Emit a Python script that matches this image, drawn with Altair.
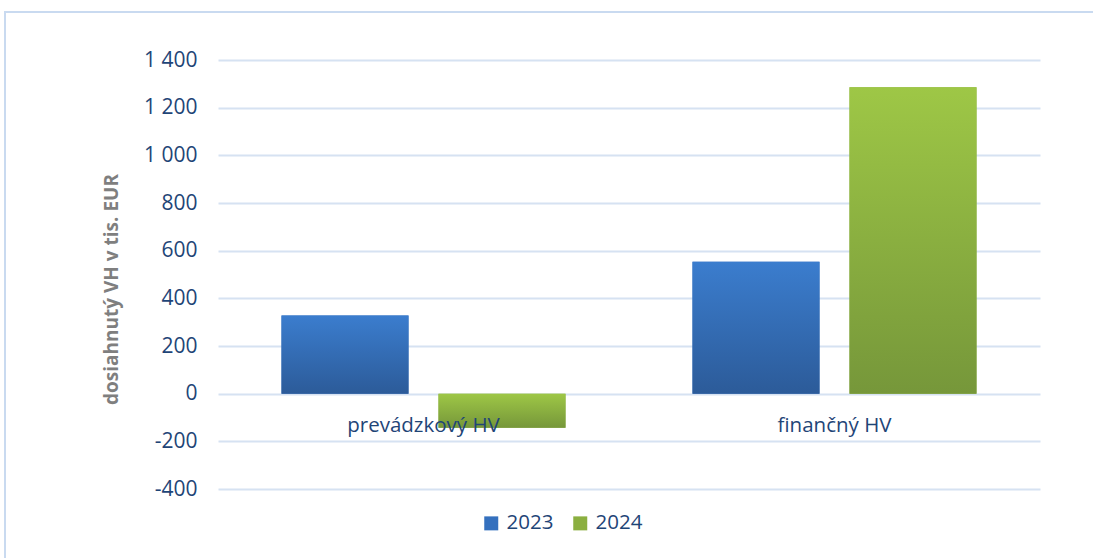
import altair as alt
import pandas as pd

categories = ["prevádzkový HV", "finančný HV"]
years = ["2023", "2024"]
values_2023 = [328, 554]
values_2024 = [-143, 1286]
y_ticks = [-400, -200, 0, 200, 400, 600, 800, 1000, 1200, 1400]

rows = []
for c, v in zip(categories, values_2023):
    rows.append({"cat": c, "year": "2023", "value": v})
for c, v in zip(categories, values_2024):
    rows.append({"cat": c, "year": "2024", "value": v})
df = pd.DataFrame(rows)

FONT = "Open Sans"
LABEL_COLOR = "#1F4577"

grad_blue = alt.Gradient(
    gradient="linear", x1=0, x2=0, y1=0, y2=1,
    stops=[alt.GradientStop(color="#3B7DCE", offset=0),
           alt.GradientStop(color="#2C5B99", offset=1)])
grad_green = alt.Gradient(
    gradient="linear", x1=0, x2=0, y1=0, y2=1,
    stops=[alt.GradientStop(color="#9EC746", offset=0),
           alt.GradientStop(color="#76973A", offset=1)])

x_enc = alt.X("cat:N", sort=categories,
              scale=alt.Scale(paddingInner=0.309, paddingOuter=0.1545),
              axis=None)
xoff_enc = alt.XOffset("year:N", sort=years,
                       scale=alt.Scale(domain=years, paddingInner=0.191, paddingOuter=0))
y_enc = alt.Y("value:Q",
              scale=alt.Scale(domain=[-400, 1400], nice=False, zero=False),
              axis=alt.Axis(values=y_ticks,
                            labelExpr="datum.value >= 1000 ? floor(datum.value/1000) + ' ' + substring(toString(datum.value), 1) : toString(datum.value)",
                            title="dosiahnutý VH v tis. EUR",
                            titleFont=FONT, titleFontSize=19, titleFontWeight="bold",
                            titleColor="#7F7F7F", titleX=-97, titleY=229,
                            labelFont=FONT, labelFontSize=21, labelColor=LABEL_COLOR,
                            labelPadding=21, domain=False, ticks=False,
                            grid=True, gridColor="#D6E2F2", gridWidth=2))

border = alt.Chart(pd.DataFrame({"a": [0]})).mark_rect(
    stroke="#C9DAF0", strokeWidth=2, fillOpacity=0
).encode(x=alt.value(-213), x2=alt.value(900), y=alt.value(-48), y2=alt.value(560))

base = alt.Chart(df).encode(x=x_enc, xOffset=xoff_enc, y=y_enc)

legend_bars = base.mark_bar().encode(
    color=alt.Color("year:N", sort=years,
                    scale=alt.Scale(domain=years, range=["#3470BE", "#8BAF40"]),
                    legend=alt.Legend(title=None, orient="none", direction="horizontal",
                                      legendX=263, legendY=453,
                                      symbolType="square", symbolSize=196,
                                      symbolStrokeWidth=0,
                                      labelFont=FONT, labelFontSize=20.5,
                                      labelColor=LABEL_COLOR, labelOffset=5,
                                      columnPadding=16))
)
bars23 = base.mark_bar(color=grad_blue).transform_filter(alt.datum.year == "2023")
bars24 = base.mark_bar(color=grad_green).transform_filter(alt.datum.year == "2024")

labels = alt.Chart(pd.DataFrame({"cat": categories})).mark_text(
    font=FONT, fontSize=20.5, color=LABEL_COLOR, baseline="alphabetic", dy=38
).encode(x=alt.X("cat:N", sort=categories), y=alt.datum(0), text="cat:N")

chart = alt.layer(border, legend_bars, bars23, bars24, labels).properties(
    width=822, height=429,
    autosize=alt.AutoSizeParams(type="none"),
    padding={"left": 218, "top": 60, "right": 53, "bottom": 69},
    background="white",
).configure_view(stroke=None)

chart.save("out.html", embed_options={"renderer": "svg", "actions": False})
